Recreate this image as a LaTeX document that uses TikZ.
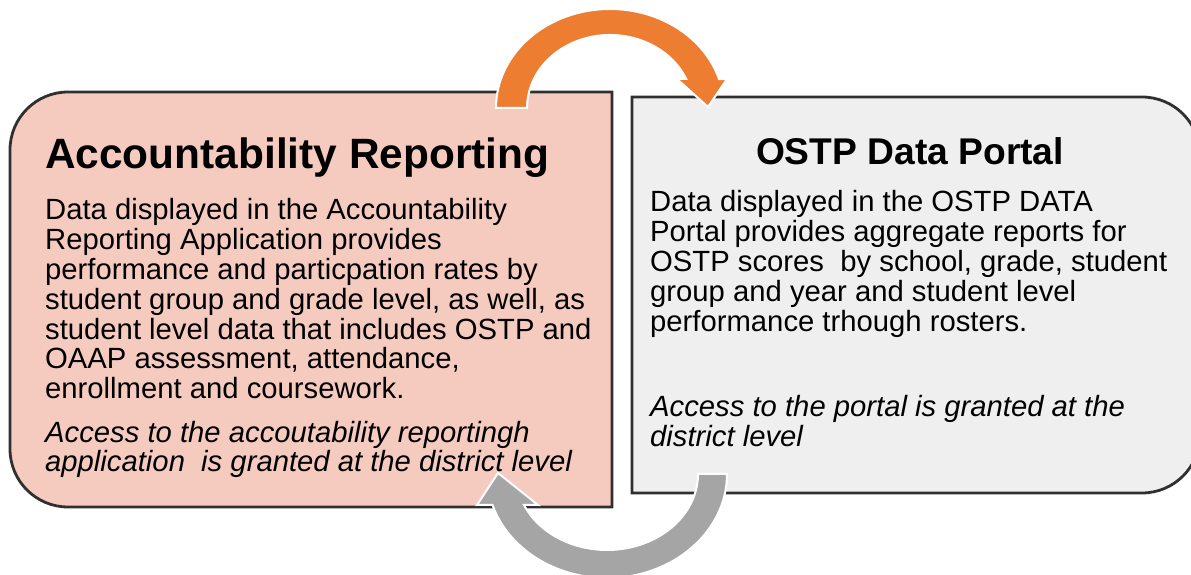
\documentclass[tikz,border=0pt]{standalone}
\usepackage{fontspec}
\setmainfont{Liberation Sans}
\definecolor{boxpink}{HTML}{F6CBBF}
\definecolor{boxgray}{HTML}{EFEFEF}
\definecolor{edge}{HTML}{303030}
\definecolor{arrorange}{HTML}{ED7D31}
\definecolor{arrgray}{HTML}{A5A5A5}
\tikzset{
  panel/.style={draw=edge, line width=2.8pt},
  bigarrow/.style={draw=white, line width=2pt, line join=miter},
  body/.style={inner sep=0pt, anchor=base west, font=\fontsize{29.25}{30}\selectfont},
  bodyit/.style={body, font=\fontsize{29.25}{30}\selectfont\itshape},
  ltitle/.style={inner sep=0pt, anchor=base west, font=\fontsize{42.4}{48}\selectfont\bfseries},
  rtitle/.style={inner sep=0pt, anchor=base, font=\fontsize{37.2}{44}\selectfont\bfseries}
}
\begin{document}
\begin{tikzpicture}[x=1pt,y=1pt]
\useasboundingbox (0,0) rectangle (1191,575);
\clip (0,0) rectangle (1191,575);
\fill[white] (0,0) rectangle (1191,575);

% left panel
\draw[panel, fill=boxpink] (612,483) -- (68,483) arc[start angle=90,end angle=180,radius=58]
  -- (10,126) arc[start angle=180,end angle=270,radius=58] -- (612,68) -- cycle;
% right panel
\draw[panel, fill=boxgray] (632,478) -- (1142,478) arc[start angle=90,end angle=0,radius=58]
  -- (1200,140) arc[start angle=0,end angle=-90,radius=58] -- (632,82) -- cycle;

% left texts
\node[ltitle] (ltitle) at (45,406) {Accountability Reporting};
\foreach [count=\i] \t in {{Data displayed in the Accountability},{Reporting Application provides},{performance and particpation rates by},{student group and grade level, as well, as},{student level data that includes OSTP and},{OAAP assessment, attendance,},{enrollment and coursework.}}
  \node[body] (lb\i) at (45,{355-29.8*(\i-1)}) {\t};
\node[bodyit] (li1) at (45,132) {Access to the accoutability reportingh};
\node[bodyit] (li2) at (45,103) {application~ is granted at the district level};

% right texts
\node[rtitle] (rtitle) at (910,410) {OSTP Data Portal};
\foreach [count=\i] \t in {{Data displayed in the OSTP DATA},{Portal provides aggregate reports for},{OSTP scores~ by school, grade, student},{group and year and student level},{performance trhough rosters.}}
  \node[body] (rb\i) at (650,{363-29.9*(\i-1)}) {\t};
\node[bodyit] (ri1) at (650,158) {Access to the portal is granted at the};
\node[bodyit] (ri2) at (650,128) {district level};

% orange arrow (top)
\filldraw[bigarrow, fill=arrorange] (496,467) arc[start angle=180,end angle=17,x radius=114,y radius=99]
  -- (727,496) -- (708,468) -- (677,496) -- (686.2,496)
  arc[start angle=23.4,end angle=180,x radius=83,y radius=73] -- cycle;

% gray arrow (bottom)
\filldraw[bigarrow, fill=arrgray] (727,101) arc[start angle=0,end angle=-162.7,x radius=120,y radius=104]
  -- (477,70) -- (498,102) -- (538,70) -- (523.9,70.1)
  arc[start angle=-156,end angle=0,x radius=91,y radius=76] -- cycle;
\end{tikzpicture}
\end{document}
